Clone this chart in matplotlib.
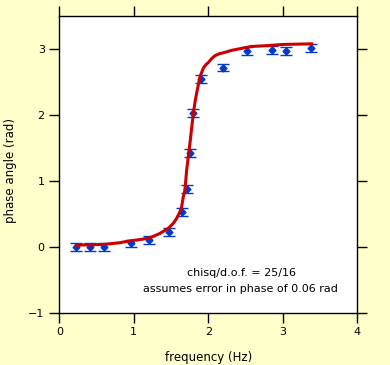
import matplotlib
matplotlib.use("Agg")
import matplotlib.pyplot as plt

# measured phase angle vs driving frequency
freq = [0.228, 0.416, 0.595, 0.957, 1.199, 1.477, 1.651, 1.709, 1.749, 1.799,
        1.906, 2.201, 2.52, 2.85, 3.047, 3.38]
phase = [0.0, 0.0, 0.0, 0.05, 0.10, 0.23, 0.53, 0.88, 1.42, 2.03,
         2.54, 2.72, 2.97, 2.99, 2.97, 3.01]
phase_err = 0.06

# fitted curve
fit_freq = [0.228, 0.6, 0.8, 0.949, 1.1, 1.217, 1.352, 1.463, 1.53, 1.575,
            1.62, 1.643, 1.665, 1.687, 1.71, 1.754, 1.80, 1.83, 1.857, 1.889,
            1.933, 1.97, 2.0, 2.045, 2.09, 2.15, 2.224, 2.31, 2.40, 2.58,
            2.76, 3.0, 3.387]
fit_phase = [0.025, 0.036, 0.06, 0.09, 0.112, 0.137, 0.203, 0.28, 0.355, 0.43,
             0.53, 0.61, 0.76, 0.86, 1.165, 1.57, 2.03, 2.25, 2.405, 2.58,
             2.71, 2.765, 2.795, 2.855, 2.90, 2.93, 2.95, 2.98, 3.0, 3.04,
             3.05, 3.07, 3.08]

bg = "#ffffcc"
fig = plt.figure(figsize=(3.9, 3.65), dpi=100, facecolor=bg)
ax = fig.add_axes([0.152, 0.1433, 0.764, 0.8125])
ax.set_facecolor("white")

ax.plot(fit_freq, fit_phase, color="#cc0000", lw=2.2, zorder=3)
ax.errorbar(freq, phase, yerr=phase_err, fmt="D", color="#0038d0",
            ms=3.5, capsize=4, elinewidth=1, capthick=1, zorder=2)

ax.set_xlim(0, 4)
ax.set_ylim(-1, 3.5)
ax.set_xticks([0, 1, 2, 3, 4])
ax.set_yticks([-1, 0, 1, 2, 3])
ax.tick_params(direction="out", length=7, width=1, labelsize=8,
               top=True, right=True)
for s in ax.spines.values():
    s.set_linewidth(1)

ax.set_xlabel("frequency (Hz)", fontsize=8.5, va="center")
ax.set_ylabel("phase angle (rad)", fontsize=8.5, va="center")
ax.xaxis.set_label_coords(0.5, -0.15)
ax.yaxis.set_label_coords(-0.163, 0.48)

ax.text(2.45, -0.395, "chisq/d.o.f. = 25/16", ha="center", va="center", fontsize=8)
ax.text(2.43, -0.64, "assumes error in phase of 0.06 rad", ha="center", va="center", fontsize=8)

fig.savefig("out.png", dpi=100, facecolor=bg)
